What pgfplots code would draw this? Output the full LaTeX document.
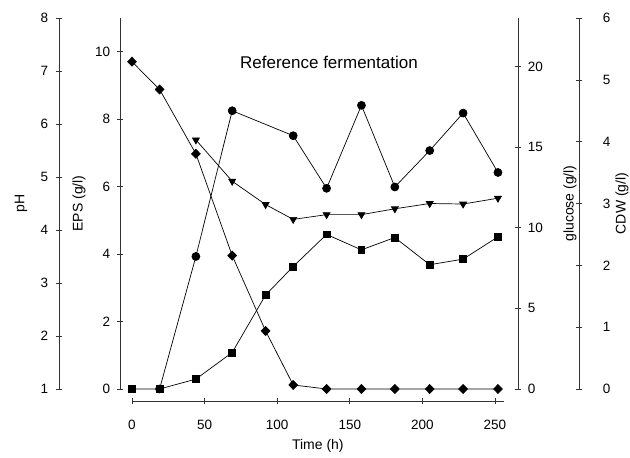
\documentclass[border=0pt]{standalone}
\usepackage{fontspec}
\setmainfont{Liberation Sans}
\usepackage{pgfplots}
\pgfplotsset{compat=1.18}

\pgfplotsset{
  refaxis/.style={
    scale only axis,
    anchor=south west,
    clip=false,
    height=371pt,
    axis line style={black!80, line width=0.6pt},
    tick align=outside,
    major tick length=6.5pt,
    every tick/.style={black!80, line width=0.6pt},
    minor tick num=0,
    /pgf/number format/assume math mode=true,
    tick label style={font=\fontsize{13.5}{15}\selectfont},
    label style={font=\fontsize{14}{16}\selectfont},
  },
  yonly/.style={
    axis x line=bottom,
    x axis line style={draw=none},
    xtick=\empty,
  },
  noarrows/.style={
    axis line style={-},
    x axis line style={-},
    y axis line style={-},
    every inner x axis line/.append style={-},
    every inner y axis line/.append style={-},
    every outer x axis line/.append style={-},
    every outer y axis line/.append style={-},
  },
  ser/.style={black, line width=0.7pt},
}

\begin{document}
\begin{tikzpicture}
\path[use as bounding box] (0pt,0pt) rectangle (630pt,458pt);

% pH axis (outer left) with triangles
\begin{axis}[refaxis, yonly, at={(59pt,69pt)}, width=459pt,
  xmin=-50.28, xmax=265.8, ymin=1, ymax=8,
  axis y line=left, noarrows, ytick={1,2,...,8},
  yticklabel shift=4pt,
  ylabel={pH},
  ylabel style={at={(axis description cs:-0.0828,0.5)}, anchor=center, font=\fontsize{14}{16}\selectfont}]
\addplot[ser, mark=triangle*, mark size=4pt, mark options={solid, fill=black, rotate=180}] coordinates {
(44,5.70) (69,4.92) (92,4.48) (111,4.20) (134,4.29) (158,4.29) (181,4.40) (205,4.50) (228,4.49) (252,4.60)};
\end{axis}

% CDW axis (outer right) with squares
\begin{axis}[refaxis, yonly, at={(120pt,69pt)}, width=459pt,
  xmin=-8.26, xmax=307.85, ymin=0, ymax=6,
  axis y line=right, noarrows, ytick={0,1,...,6},
  yticklabel shift=17pt,
  ylabel={CDW (g/l)},
  ylabel style={at={(axis description cs:1.0937,0.5)}, anchor=center, font=\fontsize{14}{16}\selectfont}]
\addplot[ser, mark=square*, mark size=3.4pt, mark options={solid, fill=black}] coordinates {
(0,0) (19,0) (44,0.16) (69,0.59) (92,1.52) (111,1.98) (134,2.50) (158,2.25) (181,2.45) (205,2.01) (228,2.10) (252,2.46)};
\end{axis}

% glucose axis (inner right) with diamonds
\begin{axis}[refaxis, yonly, at={(120pt,69pt)}, width=398pt,
  xmin=-8.26, xmax=265.8, ymin=0, ymax=23,
  axis y line=right, noarrows, ytick={0,5,...,20},
  yticklabel shift=3pt,
  ylabel={glucose (g/l)},
  ylabel style={at={(axis description cs:1.1307,0.5)}, anchor=center, font=\fontsize{14}{16}\selectfont}]
\addplot[ser, mark=diamond*, mark size=4.5pt, mark options={solid, fill=black, xscale=1.3}] coordinates {
(0,20.29) (19,18.57) (44,14.58) (69,8.27) (92,3.60) (111,0.25) (134,0) (158,0) (181,0) (205,0) (228,0) (252,0)};
\end{axis}

% EPS axis (inner left) with circles
\begin{axis}[refaxis, yonly, at={(120pt,69pt)}, width=398pt,
  xmin=-8.26, xmax=265.8, ymin=0, ymax=11,
  axis y line=left, noarrows, ytick={0,2,...,10},
  yticklabel shift=3pt,
  ylabel={EPS (g/l)},
  ylabel style={at={(axis description cs:-0.103,0.5)}, anchor=center, font=\fontsize{14}{16}\selectfont},
  title={Reference fermentation},
  title style={at={(axis description cs:0.525,0.863)}, anchor=center, font=\fontsize{17}{20}\selectfont}]
\addplot[ser, mark=*, mark size=4pt, mark options={solid, fill=black}] coordinates {
(19,0) (44,3.93) (69,8.25) (111,7.51) (134,5.95) (158,8.41) (181,5.99) (205,7.07) (228,8.18) (252,6.42)};
\end{axis}

% time axis (offset below)
\begin{axis}[refaxis, at={(132pt,57pt)}, width=371.7pt, height=10pt,
  xmin=0, xmax=256, ymin=0, ymax=1,
  axis x line=bottom, axis y line=left, noarrows,
  y axis line style={draw=none},
  xtick={0,50,...,250}, ytick=\empty,
  xticklabel shift=12pt,
  xlabel={Time (h)},
  xlabel style={at={(axis description cs:0.5,-4.5)}, anchor=center, font=\fontsize{14}{16}\selectfont}]
\end{axis}
\end{tikzpicture}
\end{document}
